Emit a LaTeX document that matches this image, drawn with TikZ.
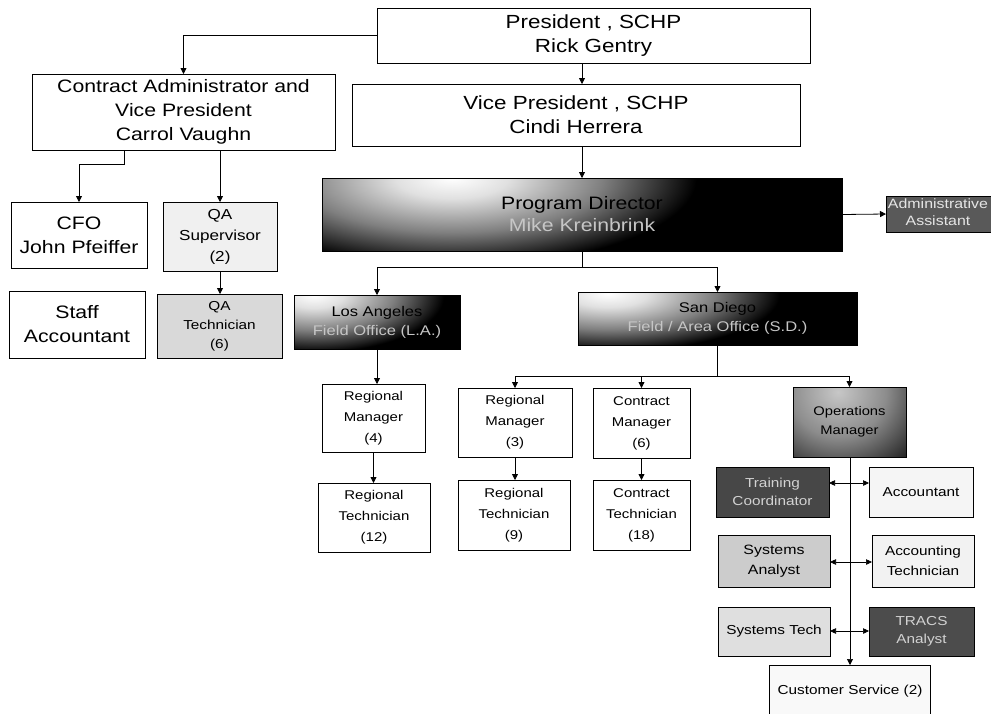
\documentclass[tikz,border=0pt]{standalone}
\usepackage{fontspec}
\setmainfont[FakeStretch=1.18]{Liberation Sans}
\usetikzlibrary{arrows.meta}

\newcommand\setfs[2]{\fontsize{#1}{#2}\selectfont}

% radial glow: light core fading to black
\pgfdeclareradialshading{glowshade}{\pgfpoint{0bp}{0bp}}{%
  color(0bp)=(white); color(3bp)=(white!88!black); color(8bp)=(black!50);
  color(13bp)=(black); color(50bp)=(black)}
\pgfdeclareradialshading{softglow}{\pgfpoint{0bp}{0bp}}{%
  color(0bp)=(white!78!black); color(8bp)=(black!45); color(16bp)=(black!85);
  color(50bp)=(black!85)}

\tikzset{
  box/.style={draw=black, line width=0.8pt, inner sep=1pt, outer sep=0pt,
              align=center, anchor=center, text=black},
  arr/.style={-{Triangle[length=6pt,width=6pt]}, line width=0.8pt},
  dbl/.style={{Triangle[length=6pt,width=5.5pt]}-{Triangle[length=6pt,width=5.5pt]}, line width=0.6pt},
  % glow={dx}{dy}{rx}{ry}: shaded box, light spot offset (pt) from the top-left corner
  glow/.style n args={4}{fill=black, path picture={
      \shade[shading=glowshade]
        ([xshift=#1pt, yshift=-#2pt]path picture bounding box.north west)
        ellipse [x radius=#3pt, y radius=#4pt];}},
  softglow/.style n args={4}{fill=black!85, path picture={
      \shade[shading=softglow]
        ([xshift=#1pt, yshift=-#2pt]path picture bounding box.north west)
        ellipse [x radius=#3pt, y radius=#4pt];}},
  big/.style={font=\setfs{19}{24}},
  mid/.style={font=\setfs{18}{24}},
  small/.style={font=\setfs{13}{20}},
  staff/.style={font=\setfs{12.7}{21}},
}

\begin{document}
\begin{tikzpicture}[x=1pt, y=-1pt]
  \useasboundingbox (0,0) rectangle (991,713);
  \fill[white] (0,0) rectangle (991,713);
  \clip (0,0) rectangle (991,713);

  % executive level
  \node[box, big, minimum width=433, minimum height=55] (pres) at (593.5,35.5)
    {President , SCHP\\Rick Gentry};
  \node[box, mid, minimum width=303, minimum height=76] (cav) at (183.5,112)
    {Contract Administrator and\\Vice President\\Carrol Vaughn};
  \node[box, big, minimum width=448, minimum height=62] (vp) at (576,115)
    {Vice President , SCHP\\Cindi Herrera};

  % program director and assistant
  \node[box, glow={130}{0}{470}{170}, font=\setfs{18}{22}, minimum width=520, minimum height=73] (pd) at (582,214.5)
    {Program Director\\{\color{gray!45}Mike Kreinbrink}};
  \node[box, fill=black!65, font=\setfs{13.5}{17}, text=gray!20, minimum width=114, minimum height=36] (admin) at (943,214)
    {\hspace*{-10pt}\begin{tabular}{@{}c@{}}Administrative\\Assistant\end{tabular}};

  % finance and QA branch
  \node[box, mid, minimum width=136, minimum height=66] (cfo) at (79,235)
    {CFO\\John Pfeiffer};
  \node[box, fill=gray!12, font=\setfs{14.5}{21}, minimum width=114, minimum height=69] (qasup) at (220,236.5)
    {QA\\Supervisor\\(2)};
  \node[box, mid, minimum width=136, minimum height=67] (staff) at (77,324.5)
    {Staff\\Accountant};
  \node[box, fill=gray!30, font=\setfs{13}{19}, minimum width=125, minimum height=64] (qatech) at (219.5,326)
    {QA\\Technician\\(6)};

  % field offices
  \node[box, glow={20}{0}{250}{110}, font=\setfs{14}{19}, minimum width=166, minimum height=54] (la) at (377,322)
    {Los Angeles\\{\color{gray!45}Field Office (L.A.)}};
  \node[box, glow={30}{2}{330}{110}, font=\setfs{14}{19}, minimum width=279, minimum height=53] (sd) at (717.5,318.5)
    {San Diego\\{\color{gray!45}Field / Area Office (S.D.)}};

  % regional and contract staff
  \node[box, staff, minimum width=103, minimum height=68] (rm4) at (373.5,418)
    {Regional\\Manager\\(4)};
  \node[box, staff, minimum width=112, minimum height=69] (rt12) at (374,517.5)
    {Regional\\Technician\\(12)};
  \node[box, staff, minimum width=114, minimum height=69] (rm3) at (515,422.5)
    {Regional\\Manager\\(3)};
  \node[box, staff, minimum width=112, minimum height=70] (rt9) at (514,515)
    {Regional\\Technician\\(9)};
  \node[box, staff, minimum width=97, minimum height=70] (cm6) at (641.5,423)
    {Contract\\Manager\\(6)};
  \node[box, staff, minimum width=97, minimum height=70] (ct18) at (641.5,515)
    {Contract\\Technician\\(18)};

  % operations group
  \node[box, softglow={45}{5}{150}{140}, font=\setfs{12.5}{19},
        minimum width=113, minimum height=70] (ops) at (849.5,422)
    {Operations\\Manager};
  \node[box, fill=black!72, text=gray!35, font=\setfs{13}{18}, minimum width=113, minimum height=50] (tc) at (772.5,492)
    {Training\\Coordinator};
  \node[box, fill=gray!8, small, minimum width=104, minimum height=50] (acct) at (921,492)
    {Accountant};
  \node[box, fill=gray!40, font=\setfs{13.5}{20}, minimum width=112, minimum height=52] (sa) at (774,561)
    {Systems\\Analyst};
  \node[box, fill=gray!10, font=\setfs{13}{20}, minimum width=102, minimum height=52] (at) at (923,561)
    {Accounting\\Technician};
  \node[box, fill=gray!25, small, minimum width=112, minimum height=49] (st) at (774,631.5)
    {Systems Tech};
  \node[box, fill=black!70, text=gray!35, font=\setfs{13}{18}, minimum width=105, minimum height=49] (tracs) at (921.5,631.5)
    {TRACS\\Analyst};
  \node[box, fill=gray!5, small, minimum width=161, minimum height=52] (cs) at (850,691)
    {Customer Service (2)};

  % junction points
  \coordinate (cfoj) at (124,164);
  \coordinate (pdj) at (582,267);
  \coordinate (sdj) at (717.5,376);

  % connectors: executive level
  \draw[arr] (pres.west) -| (cav.north);
  \draw[arr] (pres.south -| pd.north) -- (vp.north -| pd.north);
  \draw[arr] (vp.south -| pd.north) -- (pd.north);
  \draw[arr] (pd.east) -- (admin.west);

  % connectors: finance and QA
  \draw[arr] (cav.south -| cfoj) -- (cfoj) -| (cfo.north);
  \draw[arr] (cav.south -| qasup.north) -- (qasup.north);
  \draw[arr] (qasup.south) -- (qasup.south |- qatech.north);

  % connectors: field offices
  \draw[line width=0.8pt] (pd.south) -- (pdj);
  \draw[arr] (pdj) -| (la.north);
  \draw[arr] (pdj) -| (sd.north);
  \draw[arr] (la.south) -- (la.south |- rm4.north);
  \draw[arr] (rm4.south) -- (rm4.south |- rt12.north);

  \draw[line width=0.8pt] (sd.south) -- (sdj);
  \draw[arr] (sdj) -| (rm3.north);
  \draw[arr] (sdj) -| (cm6.north);
  \draw[arr] (sdj) -| (ops.north);
  \draw[arr] (rm3.south) -- (rm3.south |- rt9.north);
  \draw[arr] (cm6.south) -- (ct18.north);

  % connectors: operations group
  \draw[arr, line width=0.6pt] (ops.south -| cs.north) -- (cs.north);
  \draw[dbl] (tc.east |- {(0,483)}) -- (acct.west |- {(0,483)});
  \draw[dbl] (sa.east |- {(0,562)}) -- (at.west |- {(0,562)});
  \draw[dbl] (st.east |- {(0,631)}) -- (tracs.west |- {(0,631)});
\end{tikzpicture}
\end{document}
